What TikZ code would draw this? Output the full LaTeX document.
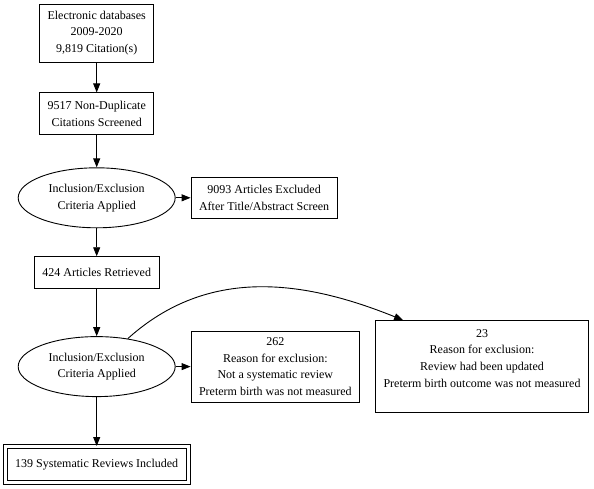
\documentclass[tikz,border=0pt]{standalone}
\usepackage{fontspec}
\setmainfont{Liberation Serif}
\usetikzlibrary{arrows.meta,shapes}

\tikzset{
  box/.style={draw, rectangle, anchor=center, align=center, inner xsep=8pt, inner ysep=3pt},
  crit/.style={draw, ellipse, anchor=center, align=center, inner sep=4pt, minimum width=157pt, minimum height=60pt},
  final/.style={box, double, double distance=3pt, inner xsep=10pt, minimum height=36pt},
  flow/.style={-{Triangle[length=9pt,width=7pt]}}
}

\begin{document}
\begin{tikzpicture}[line width=0.9pt, every node/.style={font=\fontsize{12}{16.7}\selectfont}]
  \matrix(m)[inner sep=0pt, row sep=0pt, column sep=0pt, ampersand replacement=\&]{
    \node[box, minimum height=58pt] (db) {Electronic databases\\2009-2020\\9,819 Citation(s)}; \& \&[15pt] \\[30pt]
    \node[box, minimum height=42pt] (nd) {9517 Non-Duplicate\\Citations Screened}; \& \& \\[32pt]
    \node[crit] (ie1) {Inclusion/Exclusion\\Criteria Applied}; \&
      \node[box, anchor=west, minimum height=41pt] (ex1) {9093 Articles Excluded\\After Title/Abstract Screen}; \& \\[28pt]
    \node[box, minimum height=32pt] (ar) {424 Articles Retrieved}; \& \& \\[31pt]
    \node[crit] (ie2) {Inclusion/Exclusion\\Criteria Applied}; \&
      \node[box, anchor=west, minimum height=71pt] (ex2) {262\\Reason for exclusion:\\Not a systematic review\\Preterm birth was not measured}; \&
      \node[box, minimum height=92pt] (ex3) {23\\Reason for exclusion:\\Review had been updated\\Preterm birth outcome was not measured\\\mbox{}}; \\[31pt]
    \node[final] (inc) {139 Systematic Reviews Included}; \& \& \\
  };
  \useasboundingbox ([shift={(-96.7pt,33pt)}]db.center) rectangle ++(594pt,-488pt);
  \path[flow]
    (db) edge (nd)
    (nd) edge (ie1)
    (ie1) edge (ex1) edge (ar)
    (ar) edge (ie2)
    (ie2) edge (ex2) edge (inc) edge [out=42, in=158] ([xshift=28pt]ex3.north west);
\end{tikzpicture}
\end{document}
